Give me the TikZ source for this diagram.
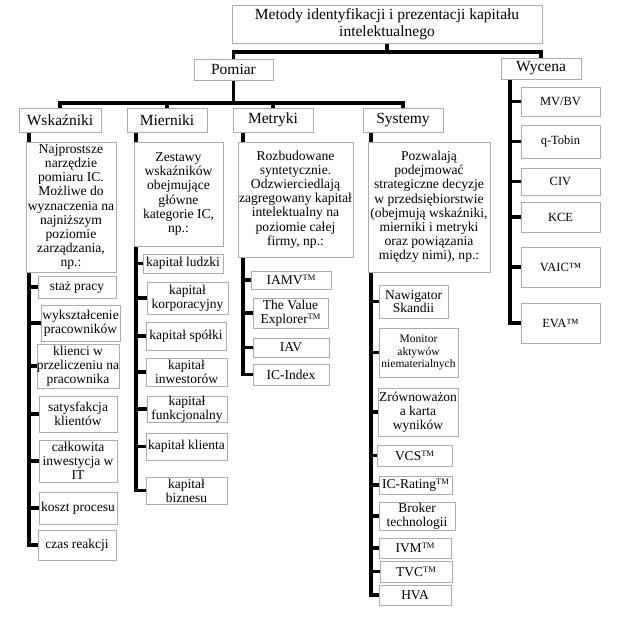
\documentclass[tikz,border=0pt]{standalone}
\usepackage{fontspec}
\setmainfont{Liberation Serif}
\usetikzlibrary{shadows}
\pgfdeclarelayer{bg}
\pgfsetlayers{bg,main}
\newcommand\mkbox[7]{%
  \pgfmathsetmacro\mkbw{#5-#3}\pgfmathsetmacro\mkbh{#6-#4}%
  \pgfmathsetmacro\mkbx{(#3+#5)/2}\pgfmathsetmacro\mkby{(#4+#6)/2}%
  \node[#1,minimum width=\mkbw pt,minimum height=\mkbh pt] (#2) at (\mkbx,\mkby) {#7};}
\newcommand\tmk{\raisebox{0.3em}{\fontsize{8.5}{8.5}\selectfont TM}}
\tikzset{
  bx/.style={draw=gray!65, fill=white, line width=0.8pt, inner sep=0pt, align=center,
    drop shadow={shadow xshift=1.4pt, shadow yshift=-1.4pt, fill=gray!60, opacity=1}},
  big/.style={bx, font=\fontsize{15.5}{17}\selectfont},
  desc/.style={bx, font=\fontsize{13.6}{14.2}\selectfont},
  leaf/.style={bx, font=\fontsize{13.5}{13.8}\selectfont},
  small/.style={bx, font=\fontsize{11.5}{12.8}\selectfont},
  wyc/.style={bx, font=\fontsize{12.5}{14}\selectfont},
  conn/.style={line width=3.2pt, draw=black},
}
\begin{document}
\begin{tikzpicture}[x=1pt,y=-1pt]
\useasboundingbox (0,0) rectangle (617,618);
% top levels
\mkbox{big}{title}{232}{5}{542}{43}{Metody identyfikacji i prezentacji kapitału\\intelektualnego}
\mkbox{big}{pomiar}{194}{59}{273}{80}{Pomiar}
\mkbox{big}{wycena}{501}{58}{581}{79}{Wycena}
\mkbox{big}{wsk}{19}{108}{101}{132}{Wskaźniki}
\mkbox{big}{mie}{127}{108}{207}{132}{Mierniki}
\mkbox{big}{met}{233}{108}{313}{132}{Metryki}
\mkbox{big}{sys}{363}{108}{443}{132}{Systemy}
% descriptions
\mkbox{desc}{wskd}{26}{142}{116}{272}{Najprostsze\\narzędzie\\pomiaru IC.\\Możliwe do\\wyznaczenia na\\najniższym\\poziomie\\zarządzania,\\np.:}
\mkbox{desc}{mied}{134}{142}{223}{246}{Zestawy\\wskaźników\\obejmujące\\główne\\kategorie IC,\\np.:}
\mkbox{desc}{metd}{238}{142}{353}{257}{Rozbudowane\\syntetycznie.\\Odzwierciedlają\\zagregowany kapitał\\intelektualny na\\poziomie całej\\firmy, np.:}
\mkbox{desc}{sysd}{368}{142}{490}{272}{Pozwalają\\podejmować\\strategiczne decyzje\\w przedsiębiorstwie\\(obejmują wskaźniki,\\mierniki i metryki\\oraz powiązania\\między nimi), np.:}
% Wskazniki children
\mkbox{leaf}{staz}{38}{276}{116}{298}{staż pracy}
\mkbox{leaf}{wyk}{41}{305}{120}{341}{wykształcenie\\pracowników}
\mkbox{leaf}{kli}{39}{344}{117}{388}{klienci w\\przeliczeniu na\\pracownika}
\mkbox{leaf}{sat}{39}{396}{117}{432}{satysfakcja\\klientów}
\mkbox{leaf}{cal}{39}{440}{117}{482}{całkowita\\inwestycja w\\IT}
\mkbox{leaf}{kos}{39}{492}{117}{524}{koszt procesu}
\mkbox{leaf}{czas}{38}{530}{116}{560}{czas reakcji}
% Mierniki children
\mkbox{leaf}{kl}{143}{254}{223}{273}{kapitał ludzki}
\mkbox{leaf}{kk}{147}{282}{228}{314}{kapitał\\korporacyjny}
\mkbox{leaf}{ks}{146}{322}{226}{350}{kapitał spółki}
\mkbox{leaf}{ki}{146}{358}{227}{386}{kapitał\\inwestorów}
\mkbox{leaf}{kf}{147}{396}{227}{422}{kapitał\\funkcjonalny}
\mkbox{leaf}{kc}{146}{433}{227}{460}{kapitał klienta}
\mkbox{leaf}{kb}{146}{477}{227}{504}{kapitał\\biznesu}
% Metryki children
\mkbox{leaf}{iamv}{251}{271}{331}{289}{IAMV\tmk}
\mkbox{leaf}{tve}{253}{298}{328}{328}{The Value\\Explorer\tmk}
\mkbox{leaf}{iav}{253}{338}{329}{357}{IAV}
\mkbox{leaf}{ici}{253}{364}{329}{385}{IC-Index}
% Systemy children
\mkbox{leaf}{nav}{379}{285}{448}{318}{Nawigator\\Skandii}
\mkbox{small}{mon}{379}{328}{458}{377}{Monitor\\aktywów\\niematerialnych}
\mkbox{leaf}{zrw}{378}{388}{458}{436}{Zrównoważon\\a karta\\wyników}
\mkbox{leaf}{vcs}{377}{445}{452}{466}{VCS\tmk}
\mkbox{leaf}{icr}{379}{476}{452}{494}{IC-Rating\tmk}
\mkbox{leaf}{bro}{379}{502}{455}{530}{Broker\\technologii}
\mkbox{leaf}{ivm}{379}{538}{451}{558}{IVM\tmk}
\mkbox{leaf}{tvc}{380}{561}{452}{582}{TVC\tmk}
\mkbox{leaf}{hva}{379}{585}{451}{605}{HVA}
% Wycena children
\mkbox{wyc}{mvbv}{521}{87}{600}{116}{MV/BV}
\mkbox{wyc}{qt}{521}{125}{600}{158}{q-Tobin}
\mkbox{wyc}{civ}{521}{168}{600}{195}{CIV}
\mkbox{wyc}{kce}{521}{202}{600}{232}{KCE}
\mkbox{wyc}{vaic}{521}{247}{600}{287}{VAIC™}
\mkbox{wyc}{eva}{521}{303}{600}{343}{EVA™}
% connectors
\begin{pgfonlayer}{bg}
\coordinate (j1) at (387,52);
\draw[conn] (title.south) -- (j1);
\draw[conn] (pomiar.north) |- (j1) -| (wycena.north);
\coordinate (j2) at (233.5,103);
\draw[conn] (pomiar.south) -- (j2);
\draw[conn] (wsk.north) |- (j2) -| (sys.north);
\draw[conn] (mie.north) -- (mie.north |- j2);
\draw[conn] (met.north) -- (met.north |- j2);
% buses
\coordinate (bw) at (29,132);
\draw[conn] (bw) |- (czas.west);
\foreach \n in {staz,wyk,kli,sat,cal,kos} \draw[conn] (\n.west) -- (\n.west -| bw);
\coordinate (bm) at (136,132);
\draw[conn] (bm) |- (kb.west);
\foreach \n in {kl,kk,ks,ki,kf,kc} \draw[conn] (\n.west) -- (\n.west -| bm);
\coordinate (bt) at (243,132);
\draw[conn] (bt) |- (ici.west);
\foreach \n in {iamv,tve,iav} \draw[conn] (\n.west) -- (\n.west -| bt);
\coordinate (bs) at (371,132);
\draw[conn] (bs) |- (hva.west);
\foreach \n in {nav,mon,zrw,vcs,icr,bro,ivm,tvc} \draw[conn] (\n.west) -- (\n.west -| bs);
\coordinate (bv) at (510,79);
\draw[conn] (bv) |- (eva.west);
\foreach \n in {mvbv,qt,civ,kce,vaic} \draw[conn] (\n.west) -- (\n.west -| bv);
\end{pgfonlayer}
\end{tikzpicture}
\end{document}
